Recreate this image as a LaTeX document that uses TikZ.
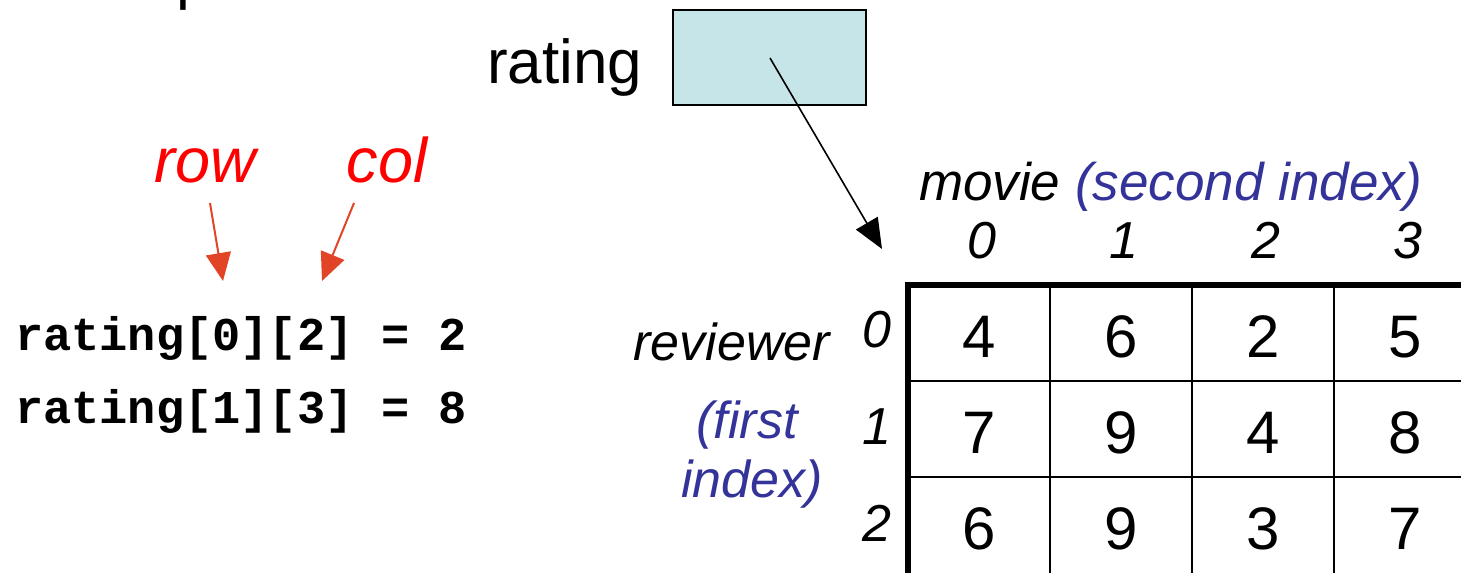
\documentclass[tikz,border=0pt]{standalone}
\usepackage{fontspec}
\setmainfont{Liberation Sans}
\setmonofont{Liberation Mono}
\usetikzlibrary{arrows.meta}

\definecolor{varfill}{RGB}{198,229,232}
\definecolor{idxblue}{RGB}{51,51,153}
\definecolor{hintred}{RGB}{226,68,40}

\tikzset{
  every node/.style={inner sep=0pt, outer sep=0pt},
  big/.style={font=\fontsize{62}{70}\selectfont},
  lbl/.style={font=\fontsize{52}{60}\selectfont\itshape},
  redlbl/.style={font=\fontsize{63}{70}\selectfont\itshape, red, anchor=base},
  cell/.style={font=\fontsize{60}{70}\selectfont},
  code/.style={font=\fontsize{47}{55}\selectfont\ttfamily\bfseries, anchor=base west},
  gridline/.style={line width=2pt},
  edge/.style={line width=6pt},
  pointer/.style={line width=1.6pt, -{Triangle[length=30pt,width=25pt]}},
  hint/.style={hintred, line width=2pt, -{Triangle[length=28pt,width=25pt]}}
}

\begin{document}
\begin{tikzpicture}[x=1pt,y=-1pt]
    \useasboundingbox (0,0) rectangle (1461,573);

    % cut title and the pointer variable
    \node[big, anchor=base west] (title) at (176,-3) {p};
    \node[big, anchor=base west] (name) at (487,83) {rating};
    \node[draw, line width=1.6pt, fill=varfill, minimum width=193pt, minimum height=95pt] (var) at (769.5,57.5) {};
    \coordinate (ptr) at (770,58);
    \coordinate (corner) at (882,249);
    \draw[pointer] (ptr) -- (corner);

    % index hints
    \node[redlbl] (row) at (205,182) {row};
    \node[redlbl] (col) at (387,182) {col};
    \coordinate (rowtip) at (223,281);
    \coordinate (coltip) at (322,281);
    \draw[hint] (210,203) -- (rowtip);
    \draw[hint] (354,203) -- (coltip);
    \node[code] (ex1) at (15,350) {rating[0][2] = 2};
    \node[code] (ex2) at (15,423) {rating[1][3] = 8};

    % axis labels
    \node[lbl, font=\fontsize{53}{60}\selectfont\itshape, anchor=base west] (movie) at (919,200) {movie \textcolor{idxblue}{(second index)}};
    \node[lbl, anchor=base east] (reviewer) at (830,360) {reviewer};
    \node[lbl, idxblue, anchor=base] (first) at (747,438) {(first};
    \node[lbl, idxblue, anchor=base] (index) at (752,497) {index)};

    % table
    \foreach \x in {1050,1192,1334}
      \draw[gridline] (\x,285) -- (\x,573);
    \foreach \y in {381,477}
      \draw[gridline] (908,\y) -- (1461,\y);
    \draw[edge] (908,573) -- (908,285) -- (1461,285);

    \foreach \c in {0,...,3}
      \node[lbl, anchor=base] (c\c) at (982+142*\c,258) {\c};
    \foreach \r in {0,1,2}
      \node[lbl] (r\r) at (877,330+96.5*\r) {\r};

    \foreach \v [count=\i from 0] in {4,6,2,5,7,9,4,8,6,9,3,7} {
      \pgfmathtruncatemacro{\rr}{int(\i/4)}
      \pgfmathtruncatemacro{\cc}{mod(\i,4)}
      \node[cell] (v\rr\cc) at (979+142*\cc,337+96*\rr) {\v};
    }
\end{tikzpicture}
\end{document}
